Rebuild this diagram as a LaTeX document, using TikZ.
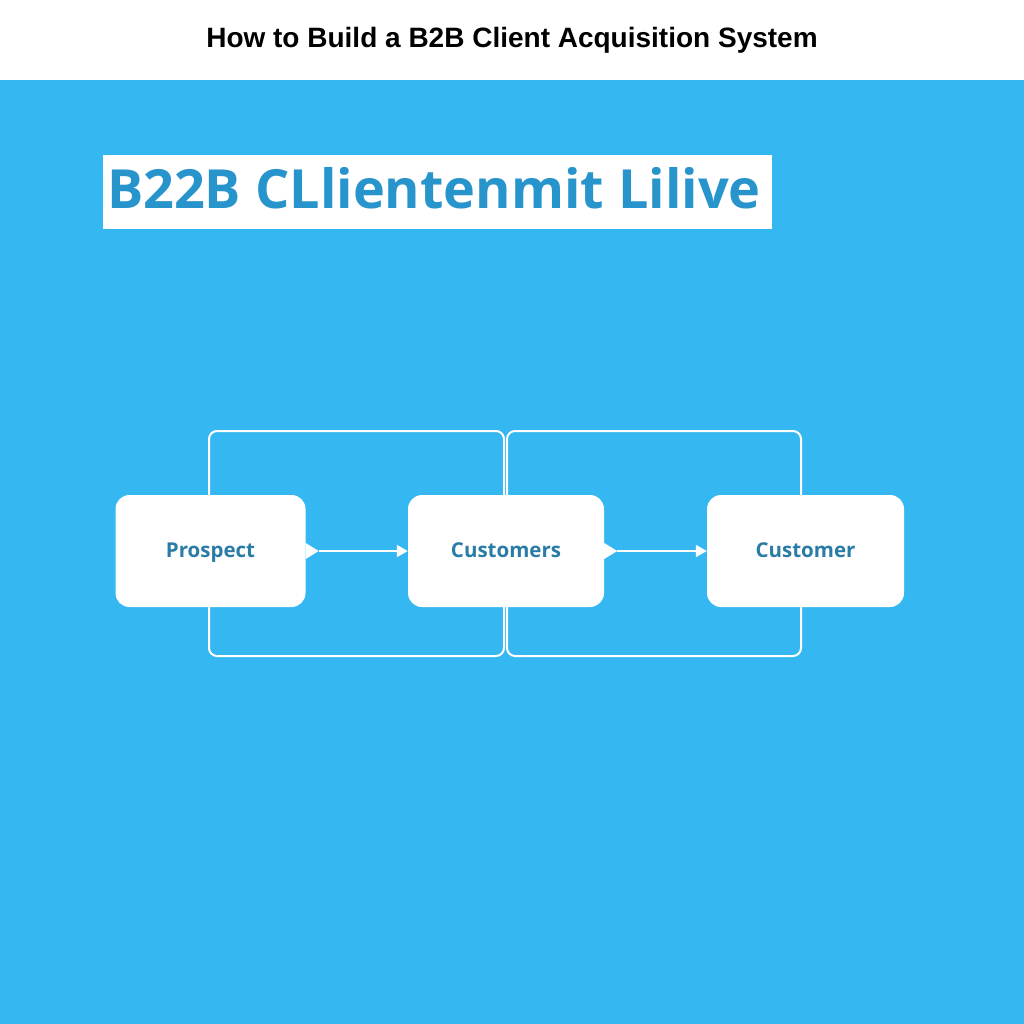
\documentclass[tikz,border=0pt]{standalone}
\usepackage{fontspec}
\setmainfont{Liberation Sans}
\newfontfamily\headfont{Open Sans}
\usetikzlibrary{arrows.meta}
\definecolor{skyback}{RGB}{53,183,241}
\definecolor{headblue}{RGB}{40,148,204}
\definecolor{labelblue}{RGB}{42,124,166}

\begin{document}
\begin{tikzpicture}[x=1pt, y=-1pt,
  stagebox/.style={rectangle, rounded corners=14pt, fill=white, minimum width=190pt, minimum height=112pt, text height=14.6pt, text depth=1.5pt, font=\headfont\bfseries\fontsize{20.5}{20.5}\selectfont, text=labelblue},
  loopline/.style={draw=white, line width=2pt, rounded corners=8pt},
  flow/.style={draw=white, line width=2pt, -{Triangle[length=11pt, width=12pt]}}]
\fill[white] (0,0) rectangle (1024,1024);
\fill[skyback] (0,80) rectangle (1024,1024);
\node (title) at (512,40) {\bfseries\fontsize{28}{28}\selectfont How to Build a B2B Client Acquisition System};
\node[fill=white, minimum width=669pt, minimum height=74pt, inner xsep=4pt, text height=38.6pt, text depth=6pt, text=headblue, font=\headfont\bfseries\fontsize{54}{54}\selectfont] (head) at (437.5,192) {\makebox[661pt][l]{B22B CLlientenmit Lilive}};
% loops behind the boxes
\coordinate (l1) at (209,431);
\coordinate (l2) at (504,656);
\coordinate (r1) at (507,431);
\coordinate (r2) at (801,656);
\draw[loopline] (l1) rectangle (l2);
\draw[loopline] (r1) rectangle (r2);
\node[stagebox] (prospect) at (210.5,551) {Prospect};
\node[stagebox, minimum width=196pt] (customers) at (506,551) {Customers};
\node[stagebox, minimum width=197pt] (customer) at (805.5,551) {Customer};
% little pointers on the right side
\fill[white] ([yshift=8pt]prospect.east) -- ++(13,8) -- ++(-13,8) -- cycle;
\fill[white] ([yshift=8pt]customers.east) -- ++(13,8) -- ++(-13,8) -- cycle;
\draw[flow] ([xshift=13pt]prospect.east) -- (customers.west);
\draw[flow] ([xshift=13pt]customers.east) -- (customer.west);
\end{tikzpicture}
\end{document}
